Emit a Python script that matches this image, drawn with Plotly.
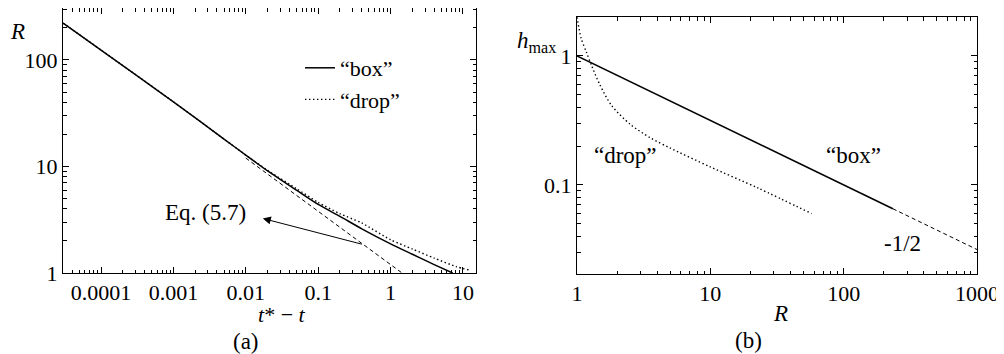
import math

import plotly.graph_objects as go

# ---- panel (a): R versus t* - t ----
box_t = [3e-5, 1e-4, 1e-3, 5e-3, 1e-2, 2e-2, 5e-2, 0.1, 0.2, 0.4, 1, 2, 4, 7.2]
box_R = [222, 124, 40.5, 18.1, 12.8, 9.1, 6.0, 4.4, 3.4, 2.6, 1.88, 1.5, 1.2, 1.0]

drop_t = [3e-5, 1e-4, 1e-3, 1e-2, 2e-2, 5e-2, 0.1, 0.2, 0.4, 1, 2, 4, 8, 12.5]
drop_R = [222, 124, 40.5, 12.8, 9.2, 6.2, 4.6, 3.6, 2.95, 2.05, 1.68, 1.38, 1.15, 1.06]

eq_t = [0.01, 1.44]
eq_R = [12.0, 1.0]

# ---- panel (b): h_max versus R ----
box_Rb = [1, 234]
box_h = [1, 0.0654]
asym_Rb = [234, 1000]
asym_h = [0.0654, 0.0316]

drop_Rb = [1.0, 1.072, 1.175, 1.288, 1.479, 1.82, 2.512, 3.548, 5.012, 10, 22.9, 57.5]
drop_h = [1.995, 1.38, 1.072, 0.841, 0.603, 0.412, 0.295, 0.232, 0.193, 0.138, 0.0944, 0.060]

ax_a_vals = [1e-4, 1e-3, 1e-2, 0.1, 1, 10]
ax_a_text = ["0.0001", "0.001", "0.01", "0.1", "1", "10"]
ay_a_vals = [1, 10, 100]
ay_a_text = ["1", "10", "100"]
ax_b_vals = [1, 10, 100, 1000]
ax_b_text = ["1", "10", "100", "1000"]
ay_b_vals = [0.1, 1]
ay_b_text = ["0.1", "1"]

FONT = "Liberation Serif"
PAGE_W, PAGE_H = 1004, 354
OFF = 8  # default body margin of the html page
W, H = PAGE_W - OFF, PAGE_H - OFF
DOT = "1.4px,2.6px"
DASH = "4px,3px"


def minors(lo, hi):
    return [m * 10 ** e for e in range(lo, hi) for m in range(2, 10)]


def fx(x):
    return (x - OFF) / W


def fy(y):
    return (H - (y - OFF)) / H


def log_axis(rng, vals, text, minor_vals, domain, anchor):
    return dict(
        type="log", range=rng, domain=domain, anchor=anchor, automargin=False,
        tickmode="array", tickvals=vals, ticktext=text,
        ticks="inside", ticklen=6, tickwidth=1, tickcolor="black",
        showline=True, linecolor="black", linewidth=1, mirror="allticks",
        showgrid=False, zeroline=False, ticklabeloverflow="allow",
        tickfont=dict(family=FONT, size=22, color="black"),
        minor=dict(tickmode="array", tickvals=minor_vals, ticks="inside",
                   ticklen=3.5, tickwidth=1, tickcolor="black", showgrid=False),
    )


fig = go.Figure()

fig.add_trace(go.Scatter(x=eq_t, y=eq_R, mode="lines", showlegend=False,
                         line=dict(color="black", width=1, dash=DASH),
                         xaxis="x", yaxis="y"))
fig.add_trace(go.Scatter(x=drop_t, y=drop_R, mode="lines", name="\u201cdrop\u201d",
                         legendgroup="d", line=dict(color="black", width=1.4, dash=DOT,
                                                    shape="spline", smoothing=0.6),
                         xaxis="x", yaxis="y"))
fig.add_trace(go.Scatter(x=box_t, y=box_R, mode="lines", name="\u201cbox\u201d",
                         legendgroup="b", line=dict(color="black", width=1.5,
                                                    shape="spline", smoothing=0.6),
                         xaxis="x", yaxis="y"))

fig.add_trace(go.Scatter(x=asym_Rb, y=asym_h, mode="lines", showlegend=False,
                         line=dict(color="black", width=1, dash=DASH),
                         xaxis="x2", yaxis="y2"))
fig.add_trace(go.Scatter(x=box_Rb, y=box_h, mode="lines", showlegend=False,
                         line=dict(color="black", width=1.5),
                         xaxis="x2", yaxis="y2"))
fig.add_trace(go.Scatter(x=drop_Rb, y=drop_h, mode="lines", showlegend=False,
                         line=dict(color="black", width=1.4, dash=DOT,
                                   shape="spline", smoothing=0.8),
                         xaxis="x2", yaxis="y2"))

fig.update_layout(
    template="none",
    width=W, height=H,
    margin=dict(l=0, r=0, t=0, b=0, autoexpand=False),
    plot_bgcolor="#fff", paper_bgcolor="#fff",
    font=dict(family=FONT, size=22, color="black"),
    xaxis=log_axis([-4.525, 1.18], ax_a_vals, ax_a_text, minors(-5, 2),
                   [fx(63), fx(476)], "y"),
    yaxis=log_axis([0, 2.488], ay_a_vals, ay_a_text, minors(0, 3),
                   [fy(273), fy(8)], "x"),
    xaxis2=log_axis([0, 3], ax_b_vals, ax_b_text, minors(0, 3),
                    [fx(577), fx(977)], "y2"),
    yaxis2=log_axis([-1.69, 0.302], ay_b_vals, ay_b_text, minors(-2, 1),
                    [fy(274), fy(17)], "x2"),
    legend=dict(x=fx(300), y=fy(47), xanchor="left", yanchor="top",
                bgcolor="rgba(0,0,0,0)", tracegroupgap=4, borderwidth=0,
                font=dict(family=FONT, size=22), traceorder="reversed"),
)


def label(text, x, y, size=23):
    fig.add_annotation(text=text, x=fx(x), y=fy(y), xref="paper", yref="paper",
                       xanchor="center", yanchor="middle", showarrow=False,
                       font=dict(family=FONT, size=size, color="black"))


label("<i>R</i>", 17, 32)
label("<i>t</i>* \u2212 <i>t</i>", 282, 314, size=22)
label("(a)", 246, 341)
label("<i>h</i><sub>max</sub>", 536, 42)
label("<i>R</i>", 780, 313)
label("(b)", 748, 340)

# panel (a) Eq. label and arrow
label("Eq. (5.7)", 205, 213)
fig.add_annotation(
    x=math.log10(0.0172), y=math.log10(3.25), xref="x", yref="y",
    ax=math.log10(0.419), ay=math.log10(1.85), axref="x", ayref="y",
    text="", showarrow=True, arrowhead=2, arrowsize=1.6, arrowwidth=1,
    arrowcolor="black",
)

# panel (b) curve labels (log10 data coordinates)
for text, lx, ly in [("\u201cdrop\u201d", 0.367, -0.775),
                     ("\u201cbox\u201d", 2.071, -0.775),
                     ("-1/2", 2.44, -1.45)]:
    fig.add_annotation(text=text, x=lx, y=ly, xref="x2", yref="y2", showarrow=False,
                       xanchor="center", yanchor="middle",
                       font=dict(family=FONT, size=23, color="black"))

fig.write_html("out.html")
